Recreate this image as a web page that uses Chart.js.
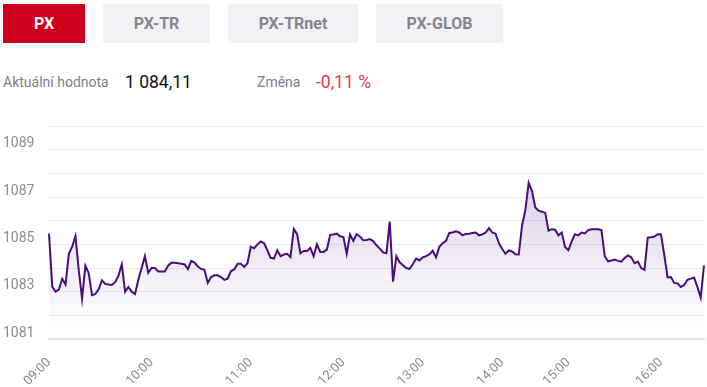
<!DOCTYPE html>
<html lang="cs">
<head>
  <meta charset="UTF-8">
  <title>PX</title>
  <style>
    body { margin: 0; background: #fff; font-family: Roboto, sans-serif; width: 707px; height: 387px; overflow: hidden; position: relative; }
    .tab { position: absolute; top: 4px; height: 39px; line-height: 39px; text-align: center; font-weight: bold; font-size: 16px; background: #f2f2f6; color: #85858e; }
    .tab.active { background: #d0021b; color: #fff; }
    .row { position: absolute; top: 70px; left: 3px; height: 24px; line-height: 24px; white-space: nowrap; }
    .row span { position: absolute; top: 0; }
    .lbl { font-size: 14px; color: #7e7e87; }
    .val { font-size: 17.5px; color: #111; }
    .neg { font-size: 17.5px; color: #e2404c; }
    #box { position: absolute; left: 3px; top: 116px; width: 704px; height: 271px; }
  </style>
</head>
<body>
  <div class="tab active" style="left:3px;width:82px">PX</div>
  <div class="tab" style="left:103px;width:107px">PX-TR</div>
  <div class="tab" style="left:228px;width:130px">PX-TRnet</div>
  <div class="tab" style="left:376px;width:127px">PX-GLOB</div>
  <div class="row">
    <span class="lbl" style="left:0">Aktuální hodnota</span>
    <span class="val" style="left:122px">1 084,11</span>
    <span class="lbl" style="left:254px">Změna</span>
    <span class="neg" style="left:313px">-0,11 %</span>
  </div>
  <div id="box"><canvas id="myChart"></canvas></div>

<script src="https://cdn.jsdelivr.net/npm/chart.js"></script>
<script>
  // hour labels and index values per hour block
  const hours = ['09:00', '10:00', '11:00', '12:00', '13:00', '14:00', '15:00', '16:00'];
  const h09 = [1085.45, 1083.2, 1083.0, 1083.1, 1083.55, 1083.3, 1084.6, 1084.9, 1085.35, 1083.9,
    1082.7, 1084.1, 1083.78, 1082.85, 1082.9, 1083.1, 1083.48, 1083.33, 1083.3, 1083.28,
    1083.4, 1083.68, 1084.15, 1083.0, 1083.2, 1083.0, 1082.9, 1083.5, 1084.0, 1084.5, 1083.8];
  const h10 = [1084.0, 1084.0, 1083.85, 1083.85, 1083.85, 1084.1, 1084.22, 1084.22, 1084.2, 1084.18,
    1084.15, 1083.95, 1084.3, 1084.23, 1084.06, 1083.96, 1083.92, 1083.37, 1083.62, 1083.69,
    1083.69, 1083.62, 1083.5, 1083.55, 1083.87, 1083.94, 1084.18, 1084.18, 1084.05, 1084.2];
  const h11 = [1084.9, 1084.83, 1085.0, 1085.12, 1085.05, 1084.75, 1084.43, 1084.4, 1084.75, 1084.5,
    1084.57, 1084.6, 1084.46, 1085.65, 1085.43, 1084.62, 1084.72, 1084.72, 1084.85, 1084.5,
    1085.0, 1084.68, 1084.68, 1084.78, 1085.4, 1085.42, 1085.45, 1085.34];
  const h12 = [1085.31, 1084.6, 1085.42, 1085.14, 1085.43, 1085.33, 1085.17, 1085.18, 1085.22, 1085.14,
    1084.96, 1084.82, 1084.66, 1084.62, 1085.96, 1083.42, 1084.5, 1084.24, 1084.12, 1084.0,
    1083.96, 1084.17, 1084.4, 1084.32];
  const h13 = [1084.45, 1084.5, 1084.58, 1084.73, 1084.45, 1084.9, 1085.05, 1085.15, 1085.48, 1085.5,
    1085.55, 1085.5, 1085.38, 1085.44, 1085.45, 1085.48, 1085.5, 1085.38, 1085.42, 1085.5,
    1085.68, 1085.5, 1085.45, 1085.05];
  const h14 = [1084.8, 1084.6, 1084.74, 1084.7, 1084.58, 1084.57, 1085.8, 1086.45, 1087.6, 1087.25,
    1086.56, 1086.42, 1086.38, 1086.33, 1085.58, 1085.64, 1085.62, 1085.38, 1085.5, 1084.89];
  const h15 = [1084.75, 1085.12, 1085.43, 1085.38, 1085.5, 1085.46, 1085.6, 1085.64, 1085.64, 1085.64,
    1085.6, 1084.5, 1084.28, 1084.32, 1084.36, 1084.3, 1084.27, 1084.42, 1084.53, 1084.45,
    1084.2, 1084.27, 1084.0, 1083.92, 1085.28, 1085.3, 1085.33, 1085.43];
  const h16 = [1085.42, 1084.55, 1083.6, 1083.62, 1083.37, 1083.35, 1083.2, 1083.28, 1083.5, 1083.55,
    1083.6, 1083.2, 1082.75, 1084.11];
  const yMin = 1081, yMax = 1090;

  const blocks = [h09, h10, h11, h12, h13, h14, h15, h16];
  const labels = [];
  const values = [];
  blocks.forEach((b, i) => {
    b.forEach((v, j) => {
      labels.push(j === 0 ? hours[i] : '');
      values.push(v);
    });
  });

  const config = {
    type: 'line',
    data: {
      labels: labels,
      datasets: [{
        data: values,
        borderColor: '#4b0c7c',
        borderWidth: 2,
        pointRadius: 0,
        tension: 0,
        fill: 'start',
        backgroundColor: ctx => {
          const area = ctx.chart.chartArea;
          if (!area) return 'rgba(90,40,140,0.1)';
          const g = ctx.chart.ctx.createLinearGradient(0, area.top, 0, area.bottom);
          g.addColorStop(0, 'rgba(100,50,150,0.32)');
          g.addColorStop(0.5, 'rgba(100,50,150,0.14)');
          g.addColorStop(0.95, 'rgba(100,50,150,0)');
          return g;
        }
      }]
    },
    options: {
      responsive: true,
      maintainAspectRatio: false,
      animation: false,
      layout: { padding: { top: 10, right: 3, left: 0, bottom: 0 } },
      plugins: { legend: { display: false }, tooltip: { enabled: false } },
      scales: {
        x: {
          grid: { display: false, drawTicks: false },
          border: { display: true, color: '#e2e2e8', width: 2 },
          ticks: {
            autoSkip: false,
            minRotation: 45,
            maxRotation: 45,
            padding: 16,
            color: '#8b8b94',
            font: { family: 'Roboto', size: 13 },
            callback: (v, i) => labels[i]
          },
          afterFit: s => { s.height = 48; s.paddingLeft = 0; s.paddingRight = 0; }
        },
        y: {
          min: yMin,
          max: yMax,
          grid: { color: '#ececf0', drawTicks: false },
          border: { display: false },
          ticks: {
            stepSize: 1,
            crossAlign: 'far',
            labelOffset: -6,
            color: '#8b8b94',
            font: { family: 'Roboto', size: 14 },
            callback: v => (v % 2 === 1 ? v : '')
          },
          afterFit: s => { s.width = 46; s.paddingTop = 0; s.paddingBottom = 0; }
        }
      }
    }
  };

  new Chart(document.getElementById('myChart'), config);
</script>
</body>
</html>
